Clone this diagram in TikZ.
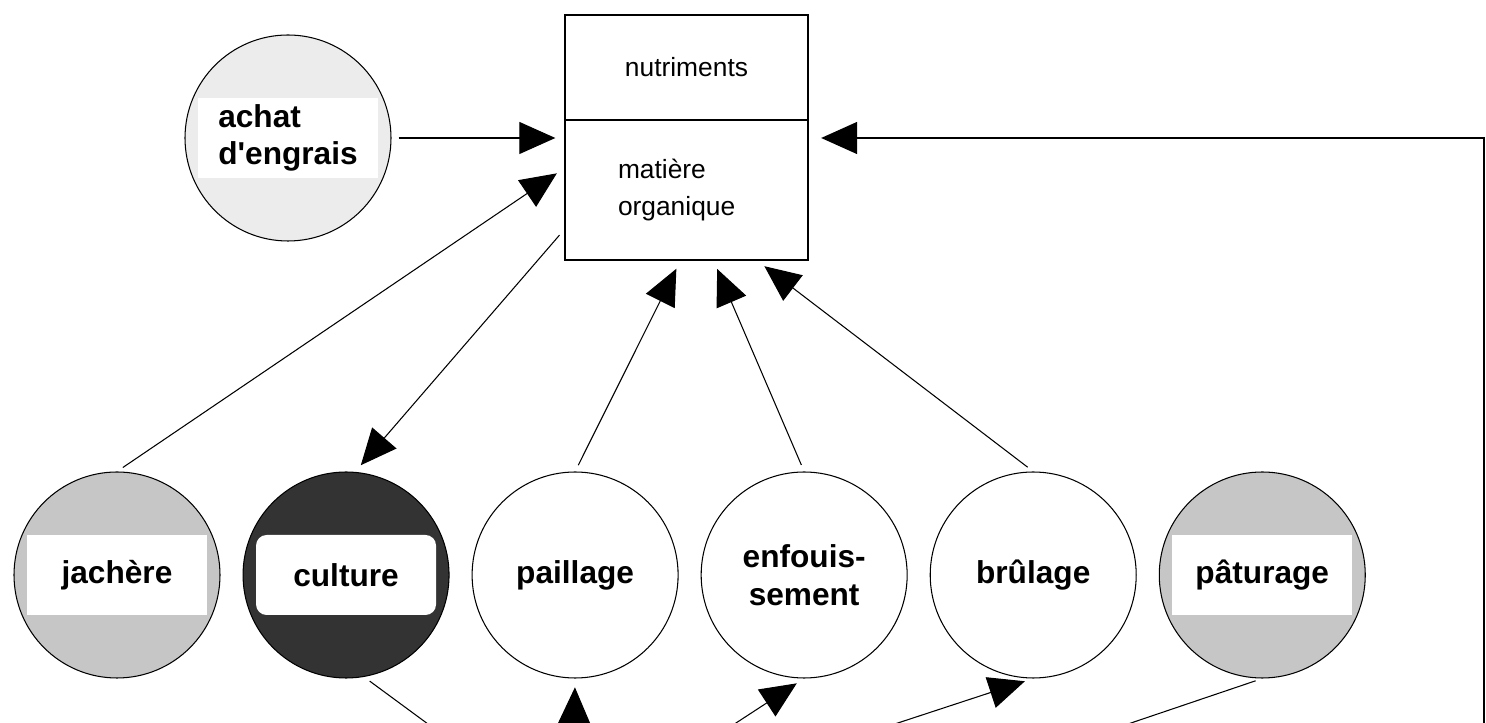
\documentclass[tikz,border=0pt]{standalone}
\usepackage{fontspec}
\setmainfont{Liberation Sans}
\usetikzlibrary{positioning,arrows.meta}

\tikzset{
  pole/.style={circle, draw, line width=0.6pt, minimum size=4.12cm, inner sep=0pt,
    align=center, font=\fontsize{18}{21.5}\selectfont\bfseries},
  bande/.style={path picture={\fill[white, rounded corners=#1]
    ([shift={(-1.8,-0.8)}]path picture bounding box.center) rectangle
    ([shift={(1.8,0.8)}]path picture bounding box.center);}},
  bande/.default=0pt,
  case/.style={rectangle, draw, line width=1pt, minimum width=4.86cm,
    font=\fontsize{15}{21.5}\selectfont},
  flux/.style={-{Triangle[length=0.72cm,width=0.64cm]}, line width=0.6pt,
    shorten >=5pt, shorten <=4pt},
  lien/.style={line width=0.6pt, shorten <=4pt}
}

\begin{document}
\begin{tikzpicture}
        \useasboundingbox (0, 0) rectangle (29.72, 14.46);
        \clip (0, 0) rectangle (29.72, 14.46);

        % Sol: nutriments et matiere organique
        \node[case, minimum height=2.1cm] (nutr) at (13.73, 13.11) {nutriments};
        \node[case, minimum height=2.8cm, text width=2.74cm, align=left] (mat) at (13.73, 10.66) {matière\\organique};

        % Achat d'engrais
        \node[pole, fill=gray!15, bande, align=left] (achat) at (5.76, 11.70) {achat\\d\textquotesingle engrais};

        % Pratiques
        \node[pole, fill=gray!45, bande] (jachere) at (2.34, 2.96) {jachère};
        \node[pole, fill=black!80, bande=6pt, right=0.44cm of jachere] (culture) {culture};
        \node[pole, right=0.44cm of culture] (paillage) {paillage};
        \node[pole, right=0.44cm of paillage] (enfouis) {enfouis-\\sement};
        \node[pole, right=0.44cm of enfouis] (brulage) {brûlage};
        \node[pole, fill=gray!45, bande, right=0.44cm of brulage] (paturage) {pâturage};

        % Flux vers et depuis le sol
        \draw[flux] (achat) -- (achat -| mat.west);
        \draw[flux] (jachere.north) -- (mat.170);
        \draw[flux] (mat.198) -- (culture.85);
        \draw[flux] (paillage.north) -- (mat.265);
        \draw[flux] (enfouis.north) -- (mat.291);
        \draw[flux] (brulage.north) -- (mat.315);

        % Flux du bas (hors cadre)
        \coordinate (bas) at (11.44, -2.14);
        \coordinate (bas2) at (16.30, -2.14);
        \coordinate (retour) at (29.68, -2.14);
        \draw[lien] (culture.280) -- (bas);
        \draw[flux] (bas) -- (paillage.south);
        \draw[flux] (bas) -- (enfouis.south);
        \draw[flux] (bas) -- (brulage.south);
        \draw[lien] (paturage.south) -- (bas2);
        \draw[flux, line width=0.8pt, shorten >=7pt] (retour) |- (achat -| mat.east);
\end{tikzpicture}
\end{document}
